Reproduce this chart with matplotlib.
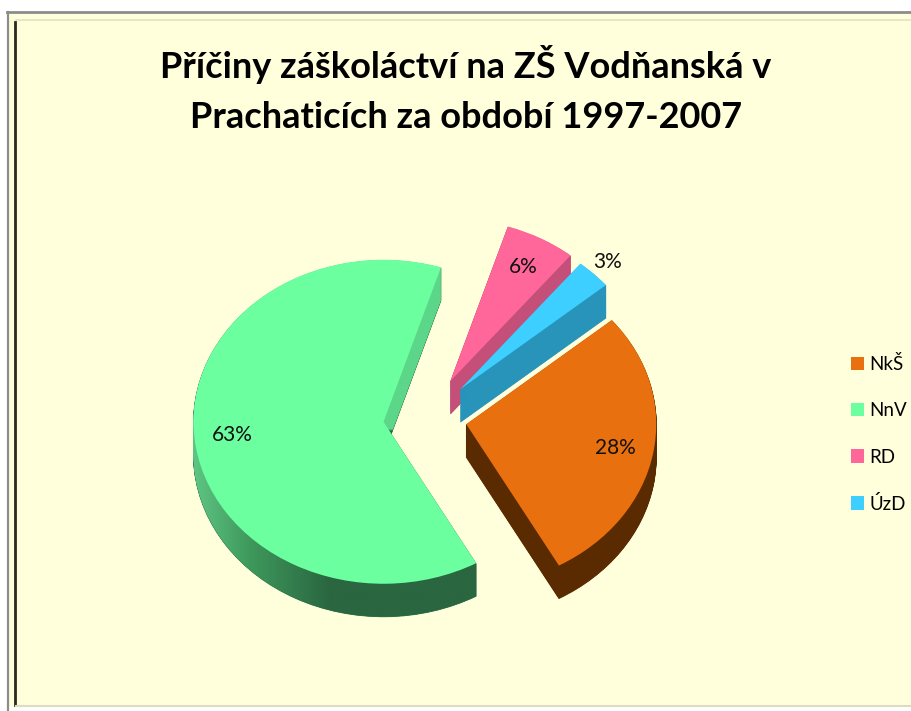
import numpy as np
import matplotlib
matplotlib.use("Agg")
import matplotlib.pyplot as plt
from matplotlib.lines import Line2D
from matplotlib.patches import Rectangle
from matplotlib import font_manager

# ---------------- data ----------------
categories = ["NkŠ", "NnV", "RD", "ÚzD"]
values = [28, 63, 6, 3]
title_lines = ["Příčiny záškoláctví na ZŠ Vodňanská v",
               "Prachaticích za období 1997-2007"]

# ---------------- style ----------------
top_colors = ["#E8700E", "#6BFFA0", "#FF6699", "#3DCFFF"]
side_colors = ["#5A2A00", "#2E7448", "#C4507A", "#2894BA"]
explode = [0.21, 0.23, 0.26, 0.25]
draw_rank = [3, 2, 0, 1]          # back-to-front order of the slices
start_angle = 40

names = {f.name for f in font_manager.fontManager.ttflist}
fam = [f for f in ["Lato", "Open Sans", "DejaVu Sans"] if f in names]
plt.rcParams["font.family"] = fam

W, H = 912, 711
fig = plt.figure(figsize=(W / 100, H / 100), dpi=100, facecolor="white")

def fx(px):
    return px / W

def fy(py):
    return 1 - py / H

BG = "#FFFFDC"
fig.patches.append(Rectangle((fx(8), fy(707)), 1 - fx(8), fy(12) - fy(707),
                             transform=fig.transFigure, facecolor=BG, edgecolor="none", zorder=-10))
for (x0, y0, x1, y1, c, lw) in [
        (7, 12, W, 12, "#8C8C8C", 2.0),
        (8, 12, 8, H, "#8C8C8C", 1.6),
        (15, 22, 15, 705, "#2A2A1E", 2.0),
        (16, 20, W, 20, "#E4E2C0", 1.2),
        (16, 706, W, 706, "#DCDCC0", 1.5)]:
    fig.add_artist(Line2D([fx(x0), fx(x1)], [fy(y0), fy(y1)], transform=fig.transFigure,
                          color=c, lw=lw, zorder=-5))

# ---------------- pie axes ----------------
CX, CY = 427, 418          # pie centre in pixels
RX, RY = 190, 162          # radii in pixels (tilted ellipse)
DEPTH = 33                 # thickness in pixels

ax = fig.add_axes([0, 0, 1, 1])
ax.patch.set_visible(False)
ax.set_zorder(2)

n_layers = 40
depths = np.linspace(DEPTH / RY, 0.0, n_layers)
green_layers = []
for t in depths[:-1]:
    wl, _ = ax.pie(values, explode=explode, startangle=start_angle, counterclock=False,
                   colors=side_colors, center=(0, -t), radius=1.0, frame=False,
                   wedgeprops=dict(linewidth=0.6))
    for i, w in enumerate(wl):
        w.set_edgecolor(side_colors[i])
        w.set_zorder(10 + 2 * draw_rank[i])
    green_layers.append(wl[1])

wedges, _, autotexts = ax.pie(values, explode=explode, startangle=start_angle, counterclock=False,
                              colors=top_colors, radius=1.0, frame=False,
                              autopct="%1.0f%%", pctdistance=0.8,
                              wedgeprops=dict(linewidth=0),
                              textprops=dict(fontsize=15, color="#111111"))
for i, w in enumerate(wedges):
    w.set_zorder(11 + 2 * draw_rank[i])
for a in autotexts:
    a.set_zorder(30)

# 3% label sits outside its slice
w = wedges[3]
mid = np.deg2rad((w.theta1 + w.theta2) / 2)
autotexts[3].set_position((w.center[0] + 1.1 * np.cos(mid), w.center[1] + 1.1 * np.sin(mid)))

# shading of the green slice side (gradient on the outer wall)
xs_px = np.linspace(150, 500, 300)
stops_px = [190, 250, 330, 500]
light = np.array([0x60, 0xC8, 0x86]) / 255
mid_c = np.array([0x3E, 0x98, 0x5C]) / 255
dark = np.array([0x2A, 0x66, 0x40]) / 255
cols = np.array([light, mid_c, dark, dark])
grad_row = np.stack([np.interp(xs_px, stops_px, cols[:, k]) for k in range(3)], axis=1)
face_col = np.array([0x5C, 0xD6, 0x88]) / 255
ys_px = np.linspace(220, 640, 200)
img = np.zeros((len(ys_px), len(xs_px), 3))
for r, yp in enumerate(ys_px):
    img[r] = face_col if yp < 430 else grad_row
ext = [(150 - CX) / RX, (500 - CX) / RX, (CY - 640) / RY, (CY - 220) / RY]
for gw in green_layers:
    im = ax.imshow(img, extent=ext, origin="upper", aspect="auto", zorder=14,
                   interpolation="bilinear")
    im.set_clip_path(gw)

ax.set_aspect("auto")
ax.set_xlim(-CX / RX, (W - CX) / RX)
ax.set_ylim(-(H - CY) / RY, CY / RY)
ax.axis("off")

# ---------------- title ----------------
fig.text(fx(466), fy(64), title_lines[0], ha="center", va="center",
         fontsize=26, fontweight="bold", color="#000000")
fig.text(fx(466), fy(118), title_lines[1], ha="center", va="center",
         fontsize=26, fontweight="bold", color="#000000")

# ---------------- legend ----------------
fig.legend(wedges, categories, loc="center left", bbox_to_anchor=(fx(851), fy(434)),
           frameon=False, handlelength=0.7, handleheight=0.7, handletextpad=0.3,
           labelspacing=1.55, fontsize=13.5, borderpad=0, borderaxespad=0)

fig.savefig("out.png", dpi=100, facecolor="white")
